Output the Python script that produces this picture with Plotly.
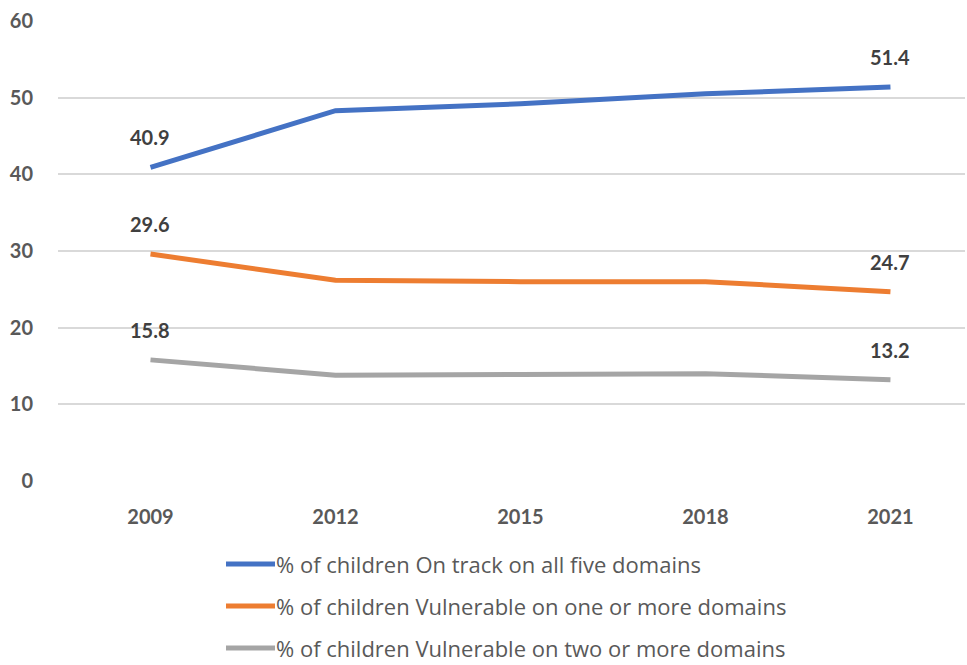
import plotly.graph_objects as go

years = ["2009", "2012", "2015", "2018", "2021"]
on_track = [40.9, 48.3, 49.2, 50.5, 51.4]
vuln_one = [29.6, 26.2, 26.0, 26.0, 24.7]
vuln_two = [15.8, 13.8, 13.9, 14.0, 13.2]
series_names = [
    "% of children On track on all five domains",
    "% of children Vulnerable on one or more domains",
    "% of children Vulnerable on two or more domains",
]
colors = ["#4472C4", "#ED7D31", "#A5A5A5"]
y_ticks = [0, 10, 20, 30, 40, 50, 60]

FONT = "Lato"
LEG_FONT = "Open Sans"
fig = go.Figure()
all_series = [on_track, vuln_one, vuln_two]
for vals, name, col in zip(all_series, series_names, colors):
    fig.add_trace(go.Scatter(
        x=list(range(len(years))), y=vals, mode="lines", name=name,
        line=dict(color=col, width=5), showlegend=False,
    ))
    for idx in (0, len(vals) - 1):
        fig.add_annotation(
            x=idx, y=vals[idx], text=f"{vals[idx]:.1f}", showarrow=False,
            yshift=30, font=dict(family=FONT, size=20, color="#404040", weight="bold"),
        )

# custom legend
for i, (name, col) in enumerate(zip(series_names, colors)):
    yp = -(564 - 481 + i * 42) / 460
    fig.add_shape(type="line", xref="paper", yref="paper",
                  x0=(226 - 58) / 907, x1=(275 - 58) / 907, y0=yp, y1=yp,
                  line=dict(color=col, width=5))
    fig.add_annotation(xref="paper", yref="paper", x=(274 - 58) / 907, y=yp,
                       text=name, showarrow=False, xanchor="left", yanchor="middle",
                       font=dict(family=LEG_FONT, size=22, color="#595959"))

fig.update_layout(
    width=967, height=665,
    margin=dict(l=58, r=2, t=21, b=184),
    plot_bgcolor="white", paper_bgcolor="white",
    xaxis=dict(
        tickmode="array", tickvals=list(range(len(years))), ticktext=years,
        range=[-0.5, 4.403], showgrid=False, zeroline=False, showline=False,
        ticks="outside", ticklen=18, tickcolor="rgba(0,0,0,0)",
        tickfont=dict(family=FONT, size=20, color="#595959", weight="bold"),
    ),
    yaxis=dict(
        range=[0, 60], tickvals=y_ticks, showgrid=True, gridcolor="#D9D9D9",
        gridwidth=1.5, zeroline=False, showline=False,
        ticks="outside", ticklen=20, tickcolor="rgba(0,0,0,0)",
        tickfont=dict(family=FONT, size=20, color="#595959", weight="bold"),
    ),
)
fig.write_html("out.html")
